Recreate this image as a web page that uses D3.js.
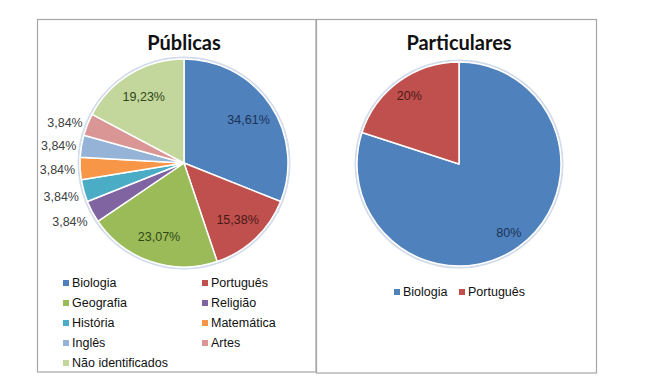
<!DOCTYPE html>
<html><head><meta charset="utf-8">
<script src="https://cdn.jsdelivr.net/npm/d3@7"></script>
<style>body{margin:0;background:#fff}svg{display:block}</style>
</head><body>
<svg id="c" width="658" height="392"></svg>
<script>
// Data
const pubCategories = ["Biologia","Português","Geografia","Religião","História","Matemática","Inglês","Artes","Não identificados"];
const pubValues = [34.61,15.38,23.07,3.84,3.84,3.84,3.84,3.84,19.23];
const pubLabels = ["34,61%","15,38%","23,07%","3,84%","3,84%","3,84%","3,84%","3,84%","19,23%"];
const partCategories = ["Biologia","Português"];
const partValues = [80,20];
const partLabels = ["80%","20%"];
const colors = ["#4F81BD","#C0504D","#9BBB59","#8064A2","#4BACC6","#F79646","#95B3D7","#D99694","#C3D69B"];
const labelColors = ["#1c3358","#4a1816","#2f4716"];

const svg = d3.select("#c");
const fontLab = "'Liberation Sans', Arial, sans-serif";
const fontTitle = "Lato, 'Open Sans', sans-serif";

// panels
svg.append("rect").attr("x",37.5).attr("y",19.5).attr("width",278.5).attr("height",352.5)
  .attr("fill","#fff").attr("stroke","#a6a6a6").attr("stroke-width",1.2);
svg.append("rect").attr("x",316.5).attr("y",19.5).attr("width",280).attr("height",353.5)
  .attr("fill","#fff").attr("stroke","#a6a6a6").attr("stroke-width",1.2);

const color = d3.scaleOrdinal().domain(pubCategories).range(colors);
const pie = d3.pie().sort(null).value(d=>d.v);

function drawPie(cx, cy, r, cats, vals, labs, insideFactor){
  const g = svg.append("g").attr("transform",`translate(${cx},${cy})`);
  const data = pie(cats.map((c,i)=>({c, v:vals[i], l:labs[i]})));
  const arc = d3.arc().innerRadius(0).outerRadius(r);
  g.append("circle").attr("r",r+1.5).attr("fill","none").attr("stroke","#d3dcea").attr("stroke-width",2);
  g.selectAll("path.s").data(data).join("path").attr("class","s")
    .attr("d",arc).attr("fill",d=>color(d.data.c))
    .attr("stroke","#fff").attr("stroke-width",1.5).attr("stroke-linejoin","round");
  const inArc = d3.arc().innerRadius(r*insideFactor).outerRadius(r*insideFactor);
  const outArc = d3.arc().innerRadius(r+5).outerRadius(r+5);
  g.selectAll("text.l").data(data).join("text").attr("class","l")
    .each(function(d){
      const small = (d.endAngle-d.startAngle) < 0.3;
      const p = small ? outArc.centroid(d) : inArc.centroid(d);
      const idx = cats.indexOf(d.data.c);
      d3.select(this).attr("x",p[0]).attr("y",p[1] + (small ? (p[1]>0 ? p[1]*0.15 : 0) : 0)).attr("dy","0.35em")
        .attr("text-anchor", small ? "end" : "middle")
        .attr("fill", small ? "#404040" : (labelColors[idx] || "#2f4716"))
        .text(d.data.l);
    })
    .attr("font-family",fontLab).attr("font-size",12.5);
}

drawPie(184,163,104,pubCategories,pubValues,pubLabels,0.75);
drawPie(459,164,102,partCategories,partValues,partLabels,0.83);

// titles
svg.append("text").attr("x",184).attr("y",50).attr("text-anchor","middle")
  .attr("font-family",fontTitle).attr("font-weight","bold").attr("font-size",20).attr("fill","#111").text("Públicas");
svg.append("text").attr("x",459).attr("y",50).attr("text-anchor","middle")
  .attr("font-family",fontTitle).attr("font-weight","bold").attr("font-size",20).attr("fill","#111").text("Particulares");

// left legend
const lg = svg.append("g");
pubCategories.forEach((c,i)=>{
  const col = i%2, row = Math.floor(i/2);
  const x = col===0 ? 63 : 202, y = 283 + row*20;
  lg.append("rect").attr("x",x).attr("y",y-3).attr("width",6).attr("height",6).attr("fill",color(c));
  lg.append("text").attr("x",x+9).attr("y",y).attr("dy","0.35em")
    .attr("font-family",fontLab).attr("font-size",12.5).attr("fill","#111").text(c);
});
// right legend
const rx = [394,459];
partCategories.forEach((c,i)=>{
  const x = rx[i], y = 292;
  svg.append("rect").attr("x",x).attr("y",y-3).attr("width",6).attr("height",6).attr("fill",color(c));
  svg.append("text").attr("x",x+9).attr("y",y).attr("dy","0.35em")
    .attr("font-family",fontLab).attr("font-size",12.5).attr("fill","#111").text(c);
});
</script>
</body></html>
